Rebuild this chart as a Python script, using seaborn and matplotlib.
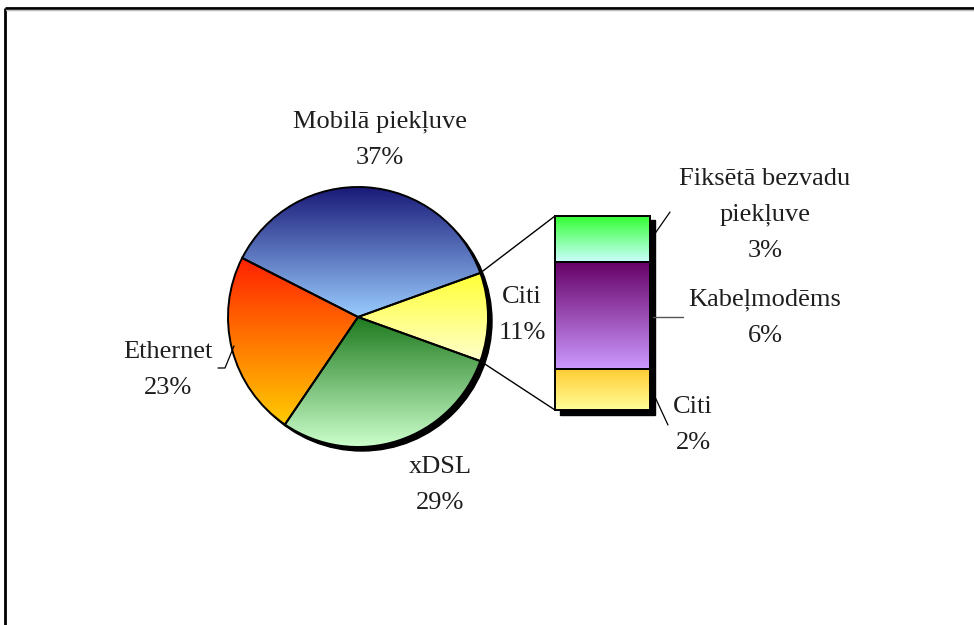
import numpy as np
import matplotlib
matplotlib.use("Agg")
import matplotlib.pyplot as plt
import seaborn as sns
from matplotlib.patches import Circle, Rectangle, ConnectionPatch
from matplotlib.colors import LinearSegmentedColormap

# ---------------- data ----------------
pie_labels = ["Citi", "Mobilā piekļuve", "Ethernet", "xDSL"]
pie_values = [11, 37, 23, 29]
pie_top_colors = ["#ffff33", "#1a1a78", "#ff2200", "#1e7a1e"]
pie_bottom_colors = ["#ffffcc", "#99ccff", "#ffcc00", "#ccffcc"]

# "Citi" slice split (bottom -> top)
bar_labels = ["Citi", "Kabeļmodēms", "Fiksētā bezvadu\npiekļuve"]
bar_values = [2.3, 6.1, 2.6]
bar_top_colors = ["#ffcc33", "#660066", "#33ff33"]
bar_bottom_colors = ["#ffff99", "#cc99ff", "#ccffff"]

sns.set_theme(style="white")
plt.rcParams["font.family"] = ["Liberation Serif", "DejaVu Serif"]

W, H = 974, 625
fig = plt.figure(figsize=(W / 100, H / 100), dpi=100)
fig.patch.set_facecolor("white")

ov = fig.add_axes([0, 0, 1, 1], zorder=5)
ov.set_xlim(0, W)
ov.set_ylim(H, 0)
ov.axis("off")
ov.patch.set_alpha(0)


def px_axes(x0, y0, x1, y1, **kw):
    return fig.add_axes([x0 / W, 1 - y1 / H, (x1 - x0) / W, (y1 - y0) / H], **kw)


def grad_fill(ax, patch, top, bottom):
    path = patch.get_path().transformed(patch.get_patch_transform())
    ext = path.get_extents()
    cmap = LinearSegmentedColormap.from_list("g", [bottom, top])
    grad = np.linspace(0, 1, 256).reshape(-1, 1)
    im = ax.imshow(grad, cmap=cmap, origin="lower", aspect="auto",
                   extent=[ext.x0, ext.x1, ext.y0, ext.y1],
                   zorder=patch.get_zorder() - 0.1, interpolation="bilinear")
    im.set_clip_path(patch)
    patch.set_facecolor("none")


# ---------------- pie ----------------
cx, cy, r = 358, 317, 130
axp = px_axes(cx - r, cy - r, cx + r, cy + r, zorder=2)
total = sum(pie_values)
start = -pie_values[0] / total * 180
wedges, _ = axp.pie(pie_values, startangle=start, counterclock=True, radius=1,
                    wedgeprops=dict(edgecolor="black", linewidth=1.4))
for w, t, b in zip(wedges, pie_top_colors, pie_bottom_colors):
    w.set_zorder(2)
    grad_fill(axp, w, t, b)
sh = 4.0 / r
axp.add_patch(Circle((sh, -sh), 1.0, color="black", zorder=0.5, clip_on=False))
axp.set_xlim(-1, 1)
axp.set_ylim(-1, 1)
axp.set_aspect("auto")
axp.axis("off")
axp.patch.set_alpha(0)

# ---------------- bar ----------------
bx0, by0, bx1, by1 = 555, 216, 650, 410
axb = px_axes(bx0, by0, bx1, by1, zorder=2)
btotal = sum(bar_values)
bottoms = np.concatenate([[0], np.cumsum(bar_values)[:-1]])
bars = axb.bar([0] * len(bar_values), bar_values, bottom=bottoms, width=1,
               edgecolor="black", linewidth=1.4, zorder=2)
for p, t, b in zip(bars.patches, bar_top_colors, bar_bottom_colors):
    p.set_clip_on(False)
    grad_fill(axb, p, t, b)
dx = 4.5 / (bx1 - bx0)
dy = 4.5 / (by1 - by0) * btotal
axb.add_patch(Rectangle((-0.5 + dx, -dy), 1, btotal, color="black", zorder=0.5, clip_on=False))
axb.set_xlim(-0.5, 0.5)
axb.set_ylim(0, btotal)
axb.axis("off")
axb.patch.set_alpha(0)

# connector lines from "Citi" slice to bar
a1 = np.deg2rad(start + 360 * pie_values[0] / total)
a2 = np.deg2rad(start)
for ang, yb in [(a1, btotal), (a2, 0)]:
    con = ConnectionPatch(xyA=(np.cos(ang), np.sin(ang)), coordsA=axp.transData,
                          xyB=(-0.5, yb), coordsB=axb.transData,
                          color="black", linewidth=1.0, zorder=3)
    fig.add_artist(con)

# ---------------- labels ----------------
fs = 19
tc = "#1e1e1e"
ls = 1.8

pie_label_pos = [(522, 315), (380, 140), (168, 370), (440, 485)]
for lab, v, (x, y) in zip(pie_labels, pie_values, pie_label_pos):
    ov.text(x, y, f"{lab}\n{v}%", ha="center", va="center", fontsize=fs,
            color=tc, linespacing=ls)

bar_label_pos = [(693, 425), (765, 318), (765, 215)]
for lab, v, (x, y) in zip(bar_labels, bar_values, bar_label_pos):
    ov.text(x, y, f"{lab}\n{round(v):d}%", ha="center", va="center", fontsize=fs,
            color=tc, linespacing=ls)

# leader lines
ov.plot([218, 225, 234], [368, 368, 346], color="black", lw=0.9)
ov.plot([654, 670], [235, 212], color="black", lw=0.9)
ov.plot([653, 683], [317, 317], color="#555555", lw=1.0)
ov.plot([655, 668], [397, 425], color="black", lw=0.9)

# chart frame (left and top edges)
ov.plot([5, 5], [H, 8], color="black", lw=2, solid_capstyle="butt")
ov.plot([5, W], [8, 8], color="black", lw=2, solid_capstyle="butt")
ov.plot([6, W], [10, 10], color="#bbbbbb", lw=1)

fig.savefig("out.png", dpi=100, facecolor="white")
